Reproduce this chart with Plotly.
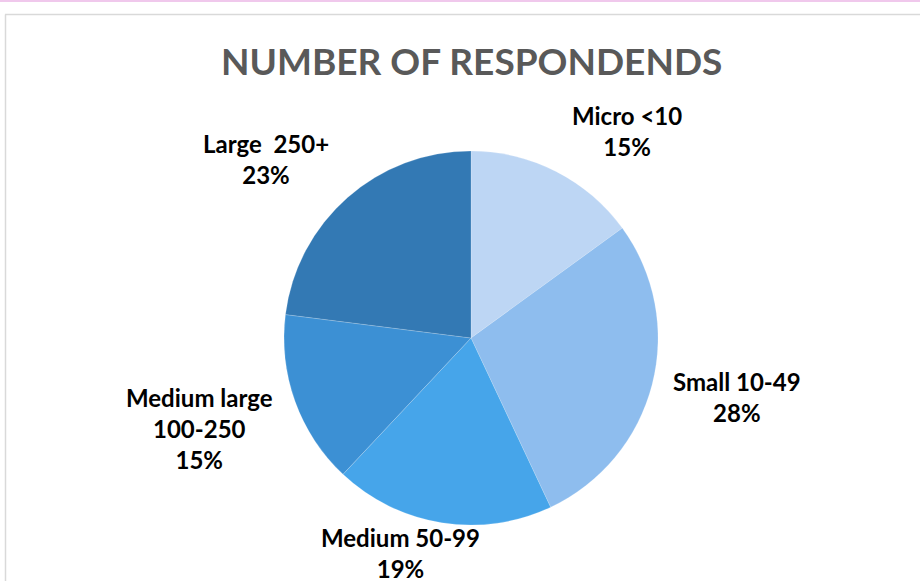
import plotly.graph_objects as go

# Respondent counts by company size (share in %)
categories = ["Micro <10", "Small 10-49", "Medium 50-99", "Medium large<br>100-250", "Large  250+"]
shares = [15, 28, 19, 15, 23]
colors = ["#BDD6F4", "#8EBDEE", "#46A5EA", "#3C90D4", "#3379B4"]

# Label anchor positions (pixels from top-left) for each slice caption
label_px = [(627, 131), (737, 397), (400, 553), (199, 428), (266, 159)]

W, H = 920, 581
cx, cy, r = 471, 338, 187

fig = go.Figure()
fig.add_trace(go.Pie(
    labels=categories,
    values=shares,
    sort=False,
    direction="clockwise",
    rotation=0,
    marker=dict(colors=colors, line=dict(color="rgba(255,255,255,0.35)", width=0.5)),
    textinfo="none",
    hoverinfo="label+percent",
    showlegend=False,
    domain=dict(x=[(cx - r) / W, (cx + r) / W], y=[(H - cy - r) / H, (H - cy + r) / H]),
))

total = sum(shares)
for name, val, (px, py) in zip(categories, shares, label_px):
    lines = name.split("<br>") + [f"{round(val / total * 100)}%"]
    fig.add_annotation(
        x=px / W, y=1 - py / H, xref="paper", yref="paper",
        text="<br>".join(f"<b>{s}</b>" for s in lines),
        showarrow=False, xanchor="center", yanchor="middle",
        font=dict(family="Lato, 'Open Sans', sans-serif", size=24, color="#000000"),
        align="center",
    )

fig.add_annotation(
    x=471 / W, y=1 - 61 / H, xref="paper", yref="paper",
    text="<b>NUMBER OF RESPONDENDS</b>", showarrow=False,
    xanchor="center", yanchor="middle",
    font=dict(family="Lato, 'Open Sans', sans-serif", size=37, color="#595959"),
)

# page accents: pink band on top and the chart frame
fig.add_shape(type="rect", xref="paper", yref="paper", x0=0, x1=1, y0=1 - 2 / H, y1=1,
              fillcolor="#F0C8EC", line_width=0, layer="below")
fig.add_shape(type="line", xref="paper", yref="paper", x0=5 / W, x1=1, y0=1 - 14.5 / H, y1=1 - 14.5 / H,
              line=dict(color="#D9D9D9", width=1.5))
fig.add_shape(type="line", xref="paper", yref="paper", x0=5.5 / W, x1=5.5 / W, y0=0, y1=1 - 14.5 / H,
              line=dict(color="#D9D9D9", width=1.5))

fig.update_layout(
    width=W, height=H,
    margin=dict(l=0, r=0, t=0, b=0),
    paper_bgcolor="white", plot_bgcolor="white",
)

fig.write_html("out.html")
